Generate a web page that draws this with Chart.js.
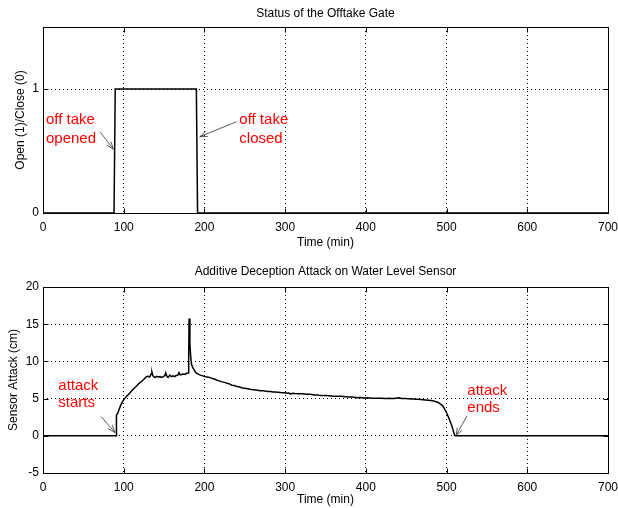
<!DOCTYPE html>
<html><head><meta charset="utf-8">
<script src="https://cdn.jsdelivr.net/npm/chart.js@4.4.0/dist/chart.umd.min.js"></script>
<style>
html,body{margin:0;padding:0;background:#fff;}
#wrap{position:relative;width:618px;height:508px;overflow:hidden;background:#fff;}
canvas{position:absolute;left:0;}
</style>
</head><body>
<div id="wrap">
<canvas id="c1" width="618" height="254" style="top:0px"></canvas>
<canvas id="c2" width="618" height="254" style="top:254px"></canvas>
</div>
<script>
// ---- data ----
const gateTimes  = [0, 88, 89.5, 190, 191.5, 700];
const gateStatus = [0, 0, 1, 1, 0, 0];

const attackTimes = [0, 90.5, 91, 92.5, 94.5, 96.5, 98.5, 101, 104, 107, 110, 113, 116, 119, 122, 125, 128, 130, 132, 134, 135, 136, 137, 139, 141, 143, 145, 147, 149, 151, 152, 153.5, 155, 157, 159, 161, 163, 165, 167, 168.5, 170, 172, 174, 176, 178, 180, 180.5, 181, 182, 183, 184, 185, 187, 189, 191, 193, 195, 198, 201, 204, 207, 210, 213, 216, 219, 222, 225, 228, 231, 234, 237, 240, 243, 246, 249, 252, 255, 258, 261, 264, 267, 270, 273, 276, 279, 282, 285, 288, 291, 294, 297, 300, 303, 305, 307, 309, 312, 315, 318, 321, 324, 327, 330, 333, 336, 339, 342, 345, 348, 351, 354, 357, 360, 363, 366, 369, 372, 375, 378, 381, 384, 387, 390, 393, 396, 399, 402, 405, 408, 411, 414, 417, 420, 423, 426, 429, 432, 435, 438, 441, 444, 447, 450, 453, 456, 459, 462, 465, 468, 471, 474, 477, 480, 483, 486, 488, 490, 492, 494, 496, 498, 500, 502, 504, 506, 508, 510, 510.5, 700];
const attackValues = [0, 0, 2.8, 3.0, 3.6, 4.15, 4.6, 5.0, 5.35, 5.7, 6.05, 6.4, 6.7, 7.05, 7.3, 7.6, 7.95, 8.0, 7.9, 8.3, 8.55, 8.1, 7.95, 7.85, 8.0, 7.9, 7.95, 7.85, 7.95, 8.1, 8.45, 8.0, 7.85, 8.15, 7.95, 8.05, 7.95, 8.1, 8.15, 8.5, 8.2, 8.25, 8.3, 8.25, 8.4, 8.45, 11, 15.75, 12.4, 10.6, 9.6, 9.3, 8.9, 8.55, 8.35, 8.25, 8.15, 8.05, 7.95, 7.9, 7.82, 7.7, 7.6, 7.45, 7.35, 7.25, 7.18, 7.05, 6.98, 6.8, 6.75, 6.62, 6.58, 6.45, 6.4, 6.35, 6.3, 6.22, 6.2, 6.15, 6.1, 6.05, 6.05, 6.0, 5.95, 5.95, 5.9, 5.88, 5.85, 5.82, 5.8, 5.78, 5.72, 5.74, 5.6, 5.72, 5.68, 5.66, 5.65, 5.64, 5.62, 5.6, 5.58, 5.55, 5.5, 5.5, 5.45, 5.43, 5.4, 5.4, 5.38, 5.36, 5.33, 5.32, 5.3, 5.3, 5.28, 5.25, 5.22, 5.2, 5.2, 5.16, 5.12, 5.15, 5.1, 5.08, 5.1, 5.08, 5.06, 5.05, 5.06, 5.04, 5.05, 5.03, 5.02, 5.05, 5.02, 5.0, 5.08, 5.1, 5.02, 5.03, 5.0, 4.98, 4.96, 4.94, 4.92, 4.9, 4.88, 4.86, 4.82, 4.78, 4.74, 4.7, 4.62, 4.54, 4.45, 4.3, 4.15, 3.9, 3.5, 3.1, 2.6, 2.05, 1.5, 0.8, 0.05, 0, 0];

const timeTicks   = [0, 100, 200, 300, 400, 500, 600, 700];
const gateTicks   = [0, 1];
const attackTicks = [-5, 0, 5, 10, 15, 20];

const FONT = '"Liberation Sans", Arial, Helvetica, sans-serif';
Chart.defaults.font.family = FONT;
Chart.defaults.font.size = 12;
Chart.defaults.color = '#000';

// box + inward ticks, and red annotations
const matlabPlugin = {
  id: 'matlab',
  afterDatasetsDraw(chart, args, opts) {
    const ctx = chart.ctx, a = chart.chartArea;
    const xs = chart.scales.x, ys = chart.scales.y;
    ctx.save();
    ctx.strokeStyle = '#000';
    ctx.lineWidth = 1;
    ctx.setLineDash([]);
    const L = Math.round(a.left) + 0.5, R = Math.round(a.right) + 0.5;
    const T = Math.round(a.top) + 0.5, B = Math.round(a.bottom) + 0.5;
    ctx.strokeRect(L, T, R - L, B - T);
    const tl = 5;
    ctx.beginPath();
    xs.ticks.forEach(t => {
      const px = Math.round(xs.getPixelForValue(t.value)) + 0.5;
      ctx.moveTo(px, B); ctx.lineTo(px, B - tl);
      ctx.moveTo(px, T); ctx.lineTo(px, T + tl);
    });
    ys.ticks.forEach(t => {
      const py = Math.round(ys.getPixelForValue(t.value)) + 0.5;
      ctx.moveTo(L, py); ctx.lineTo(L + tl, py);
      ctx.moveTo(R, py); ctx.lineTo(R - tl, py);
    });
    ctx.stroke();

    // annotations
    ctx.fillStyle = '#ff0000';
    ctx.font = '15px ' + FONT;
    ctx.textAlign = 'left';
    ctx.textBaseline = 'middle';
    (opts.texts || []).forEach(n => {
      ctx.fillText(n.text, xs.getPixelForValue(n.x), ys.getPixelForValue(n.y));
    });
    ctx.strokeStyle = '#333';
    ctx.lineWidth = 0.8;
    (opts.arrows || []).forEach(ar => {
      const x1 = xs.getPixelForValue(ar.x1), y1 = ys.getPixelForValue(ar.y1);
      const x2 = xs.getPixelForValue(ar.x2), y2 = ys.getPixelForValue(ar.y2);
      const ang = Math.atan2(y2 - y1, x2 - x1);
      const hl = 8, ha = 0.35;
      ctx.beginPath();
      ctx.moveTo(x1, y1); ctx.lineTo(x2, y2);
      ctx.moveTo(x2 - hl * Math.cos(ang - ha), y2 - hl * Math.sin(ang - ha));
      ctx.lineTo(x2, y2);
      ctx.lineTo(x2 - hl * Math.cos(ang + ha), y2 - hl * Math.sin(ang + ha));
      ctx.stroke();
    });
    ctx.restore();
  }
};

function makeChart(id, cfg) {
  const data = cfg.xs.map((t, i) => ({x: t, y: cfg.ys[i]}));
  return new Chart(document.getElementById(id), {
    type: 'line',
    data: { datasets: [{ data, borderColor: '#000', borderWidth: 1.5, pointRadius: 0, tension: 0, fill: false }] },
    plugins: [matlabPlugin],
    options: {
      responsive: false,
      animation: false,
      devicePixelRatio: 1,
      layout: { padding: { left: 0, right: 10, top: 0, bottom: 0 } },
      plugins: {
        legend: { display: false },
        tooltip: { enabled: false },
        title: {
          display: true, text: cfg.title, fullSize: false,
          font: { size: 12, weight: 'normal' }, color: '#000',
          padding: cfg.titlePad
        },
        matlab: { texts: cfg.texts, arrows: cfg.arrows }
      },
      scales: {
        x: {
          type: 'linear', min: 0, max: 700,
          afterBuildTicks: s => { s.ticks = timeTicks.map(v => ({value: v})); },
          afterFit: s => { s.height = cfg.xH; s.paddingLeft = 0; s.paddingRight = 0; },
          ticks: { padding: 7, font: { size: 12 }, color: '#000', maxRotation: 0 },
          grid: { color: '#000', lineWidth: 1, drawTicks: false },
          border: { display: false, dash: [1, 3] },
          title: { display: true, text: 'Time (min)', font: { size: 12 }, color: '#000', padding: { top: 0, bottom: cfg.xTitlePad } }
        },
        y: {
          type: 'linear', min: cfg.ymin, max: cfg.ymax,
          afterBuildTicks: s => { s.ticks = cfg.yticks.map(v => ({value: v})); },
          afterFit: s => { s.width = 43; s.paddingTop = 0; s.paddingBottom = 0; },
          ticks: { padding: 4, font: { size: 12 }, color: '#000' },
          grid: { color: '#000', lineWidth: 1, drawTicks: false },
          border: { display: false, dash: [1, 3] },
          title: { display: true, text: cfg.ytitle, font: { size: 12 }, color: '#000', padding: { top: cfg.yTitlePad, bottom: 0 } }
        }
      }
    }
  });
}

makeChart('c1', {
  xs: gateTimes, ys: gateStatus,
  title: 'Status of the Offtake Gate',
  titlePad: { top: 6.5, bottom: 6.1 },
  xH: 41, xTitlePad: 3.8,
  ymin: 0, ymax: 1.5, yticks: gateTicks,
  ytitle: 'Open (1)/Close (0)', yTitlePad: 13.8,
  texts: [
    { text: 'off take', x: 3.7, y: 0.75 },
    { text: 'opened', x: 3.7, y: 0.60 },
    { text: 'off take', x: 243.2, y: 0.75 },
    { text: 'closed', x: 243.2, y: 0.60 }
  ],
  arrows: [
    { x1: 70.6, y1: 0.656, x2: 87.1, y2: 0.514 },
    { x1: 239.7, y1: 0.736, x2: 194.3, y2: 0.615 }
  ]
});

makeChart('c2', {
  xs: attackTimes, ys: attackValues,
  title: 'Additive Deception Attack on Water Level Sensor',
  titlePad: { top: 10.8, bottom: 7.8 },
  xH: 35, xTitlePad: 1.2,
  ymin: -5, ymax: 20, yticks: attackTicks,
  ytitle: 'Sensor Attack (cm)', yTitlePad: 6.3,
  texts: [
    { text: 'attack', x: 19.0, y: 6.75 },
    { text: 'starts', x: 19.0, y: 4.39 },
    { text: 'attack', x: 525.7, y: 6.08 },
    { text: 'ends', x: 525.7, y: 3.72 }
  ],
  arrows: [
    { x1: 71.9, y1: 2.59, x2: 89.2, y2: 0.44 },
    { x1: 525.3, y1: 2.68, x2: 511.7, y2: 0.04 }
  ]
});
</script>
</body></html>
